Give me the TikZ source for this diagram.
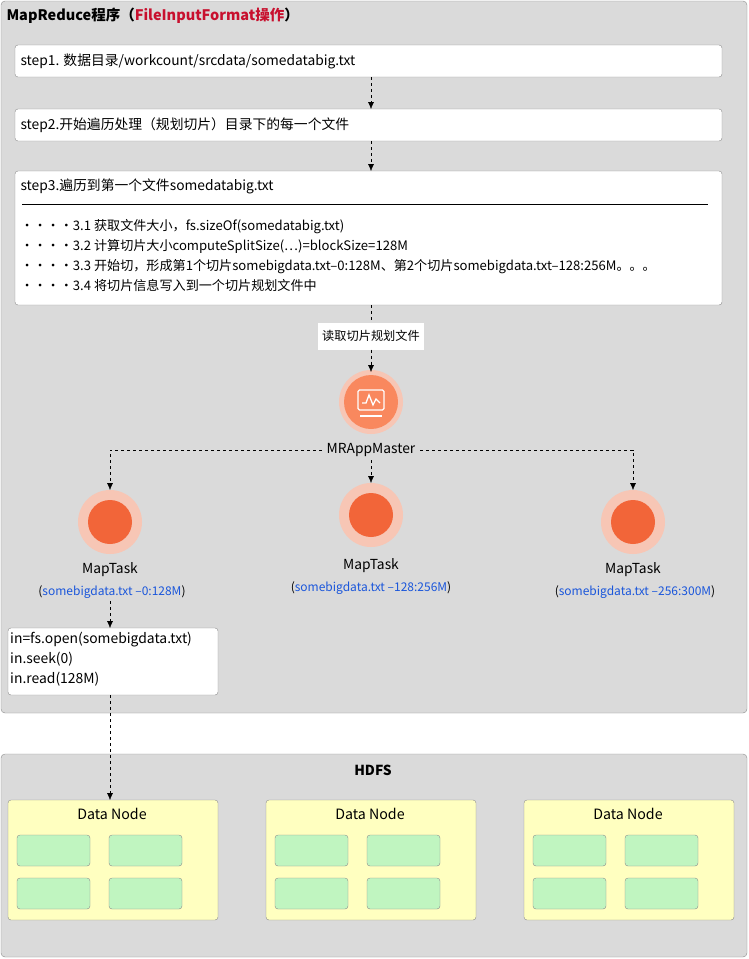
\documentclass[tikz,border=0pt]{standalone}
\usepackage{fontspec}
\setmainfont{Noto Sans CJK SC}
\usetikzlibrary{arrows.meta}
\definecolor{bgray}{HTML}{DADADA}
\definecolor{edg}{HTML}{8C8C8C}
\definecolor{tred}{HTML}{C8102E}
\definecolor{tblue}{HTML}{1A56DB}
\definecolor{halo}{HTML}{F7C6B5}
\definecolor{core}{HTML}{F26539}
\definecolor{corem}{HTML}{F9885E}
\definecolor{dny}{HTML}{FFFFC0}
\definecolor{gbox}{HTML}{C0F5C0}
\begin{document}
\begin{tikzpicture}[x=1pt,y=-1pt,font=\fontsize{13.8}{16}\selectfont,
  panel/.style={draw=edg,fill=bgray,rounded corners=4pt},
  wbox/.style={draw=edg,fill=white,rounded corners=3pt},
  dn/.style={draw=edg,fill=dny,rounded corners=3pt},
  gb/.style={draw=edg,fill=gbox,rounded corners=3pt},
  dar/.style={draw,dashed,-{Latex[length=7pt,width=6pt]}},
  dln/.style={draw,dashed}]
\useasboundingbox (0,0) rectangle (748,959);
\path[panel] (1,1) rectangle (747,713);
\node[anchor=west,font=\fontsize{14.5}{16}\selectfont\bfseries] (title) at (3,16) {MapReduce程序（\textcolor{tred}{FileInputFormat操作}）};
\path[wbox] (15,45) rectangle (722,77);
\node[anchor=west] (s1) at (17,61) {step1. 数据目录/workcount/srcdata/somedatabig.txt};
\path[wbox] (15,109) rectangle (722,141);
\node[anchor=west] (s2) at (17,125) {step2.开始遍历处理（规划切片）目录下的每一个文件};
\path[wbox] (15,171) rectangle (722,305);
\node[anchor=west] (s3) at (17,186) {step3.遍历到第一个文件somedatabig.txt};
\draw (22,204) -- (708,204);
\node[anchor=west,align=left,font=\fontsize{13.1}{20}\selectfont] (s3b) at (17,255) {····3.1 获取文件大小，fs.sizeOf(somedatabig.txt)\\····3.2 计算切片大小computeSplitSize(…)=blockSize=128M\\····3.3 开始切，形成第1个切片somebigdata.txt–0:128M、第2个切片somebigdata.txt–128:256M。。。\\····3.4 将切片信息写入到一个切片规划文件中};
\coordinate (a1) at (371,77); \coordinate (a2) at (371,109);
\coordinate (b1) at (371,141); \coordinate (b2) at (371,171);
\coordinate (c1) at (371,305);
\draw[dar] (a1) -- (a2);
\draw[dar] (b1) -- (b2);
\node[fill=white,inner sep=4pt,minimum height=27pt,font=\fontsize{12.2}{14}\selectfont] (rd) at (371,336) {读取切片规划文件};
\draw[dln] (c1) -- (rd.north);
% MRAppMaster
\fill[halo] (371,402) circle (32);
\fill[corem] (371,402) circle (27);
\coordinate (am) at (371,402);
\draw[dar] (rd.south) -- (371,372);
\draw[white,line width=1.3pt,rounded corners=1.5pt] (358,390) rectangle (384,410);
\draw[white,line width=1.3pt] (362,403) -- (366,403) -- (369,395) -- (373,405) -- (376,399) -- (380,403);
\draw[white,line width=1.3pt] (360,416) -- (382,416);
\node[fill=bgray,inner xsep=5pt] (mr) at (371,450) {MRAppMaster};
% map tasks
\fill[halo] (110,522) circle (32); \fill[core] (110,522) circle (22);
\fill[halo] (371,515) circle (32); \fill[core] (371,515) circle (22);
\fill[halo] (633,522) circle (32); \fill[core] (633,522) circle (22);
\coordinate (t1) at (110,490); \coordinate (t2) at (371,483); \coordinate (t3) at (633,490);
\draw[dar] (mr.west) -| (t1);
\draw[dar] (mr.east) -| (t3);
\draw[dar] (mr.south) -- (t2);
\node (m1) at (110,570) {MapTask};
\node[font=\fontsize{12}{13}\selectfont] (m1b) at (112,592) {(\textcolor{tblue}{somebigdata.txt –0:128M})};
\node (m2) at (371,566) {MapTask};
\node[font=\fontsize{12}{13}\selectfont] (m2b) at (371,588) {(\textcolor{tblue}{somebigdata.txt –128:256M})};
\node (m3) at (633,570) {MapTask};
\node[font=\fontsize{12}{13}\selectfont] (m3b) at (635,592) {(\textcolor{tblue}{somebigdata.txt –256:300M})};
\path[wbox] (8,628) rectangle (218,695);
\node[anchor=north west,align=left,font=\fontsize{13.9}{20}\selectfont,inner sep=0pt] (io) at (10,632) {in=fs.open(somebigdata.txt)\\in.seek(0)\\in.read(128M)};
\coordinate (io1) at (110,628); \coordinate (io2) at (110,695);
\draw[dar] (110,601) -- (io1);
% HDFS
\path[panel] (1,754) rectangle (747,957);
\node[font=\fontsize{13.8}{16}\selectfont\bfseries] (hd) at (373,770) {HDFS};
\foreach \x/\n in {8/d1,266/d2,524/d3}{
  \path[dn] (\x,800) rectangle ++(210,120);
  \node[font=\fontsize{14.2}{16}\selectfont] (\n) at (\x+104,814) {Data Node};
  \path[gb] (\x+9,835) rectangle ++(73,31);
  \path[gb] (\x+101,835) rectangle ++(73,31);
  \path[gb] (\x+9,878) rectangle ++(73,31);
  \path[gb] (\x+101,878) rectangle ++(73,31);
}
\coordinate (dtop) at (110,800);
\draw[dar] (io2) -- (dtop);
\end{tikzpicture}
\end{document}
